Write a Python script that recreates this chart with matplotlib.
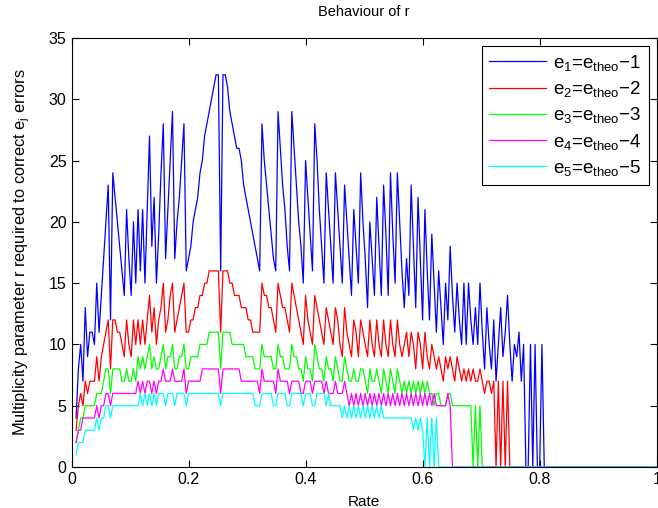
import numpy as np
import matplotlib
matplotlib.use("Agg")
import matplotlib.pyplot as plt

plt.rcParams['font.family'] = ['Liberation Sans', 'DejaVu Sans']
plt.rcParams['mathtext.fontset'] = 'custom'
plt.rcParams['mathtext.rm'] = 'Liberation Sans'
plt.rcParams['mathtext.it'] = 'Liberation Sans'

n_code = 255
k_vals = np.arange(2, 256)
rate = k_vals / n_code

blue_vals = [4, 8, 10, 7, 13, 9, 11, 11, 10, 15,
             11, 14, 17, 20, 23, 12, 24, 22, 20, 18,
             16, 14, 21, 17, 14, 20, 15, 21, 16, 21,
             15, 21, 27, 18, 22, 15, 19, 24, 28, 17,
             21, 25, 29, 17, 20, 22, 25, 28, 16, 17,
             18, 20, 21, 22, 24, 25, 27, 28, 29, 30,
             31, 32, 32, 16, 32, 32, 31, 29, 28, 27,
             26, 26, 25, 23, 22, 21, 20, 19, 18, 17,
             16, 28, 25, 23, 21, 19, 17, 16, 29, 26,
             23, 21, 18, 16, 29, 26, 23, 20, 18, 15,
             25, 22, 19, 16, 28, 25, 21, 18, 15, 24,
             21, 18, 15, 24, 21, 18, 15, 23, 20, 17,
             14, 21, 18, 15, 24, 20, 17, 13, 20, 17,
             14, 22, 18, 14, 23, 19, 14, 24, 19, 15,
             24, 20, 16, 13, 17, 14, 23, 18, 13, 22,
             17, 12, 21, 16, 12, 19, 15, 11, 16, 13,
             10, 15, 12, 18, 14, 11, 15, 12, 10, 15,
             10, 15, 12, 10, 13, 10, 15, 11, 8, 13,
             10, 8, 12, 7, 10, 13, 9, 11, 14, 10,
             7, 10, 9, 11, 7, 10, 0, 0, 10, 0,
             10, 0, 0, 10, 0]

red_vals = [3, 5, 6, 5, 7, 6, 7, 7, 7, 9,
            7, 9, 10, 11, 12, 8, 12, 12, 11, 11,
            10, 9, 12, 10, 9, 12, 10, 12, 10, 12,
            10, 12, 14, 11, 13, 10, 12, 13, 15, 11,
            12, 14, 15, 11, 12, 13, 14, 15, 11, 11,
            12, 12, 13, 13, 14, 14, 15, 15, 16, 16,
            16, 16, 16, 11, 16, 16, 16, 15, 15, 14,
            14, 14, 13, 13, 13, 12, 12, 11, 11, 11,
            11, 15, 14, 14, 13, 13, 12, 11, 15, 14,
            13, 13, 12, 11, 15, 14, 13, 12, 11, 10,
            14, 12, 11, 10, 14, 13, 12, 11, 10, 13,
            12, 11, 10, 13, 12, 10, 9, 13, 11, 10,
            9, 12, 11, 9, 12, 11, 10, 9, 12, 10,
            9, 12, 10, 9, 12, 10, 9, 12, 10, 9,
            12, 10, 9, 10, 11, 9, 11, 10, 8, 11,
            10, 8, 11, 9, 8, 10, 9, 8, 9, 8,
            7, 9, 8, 9, 8, 7, 9, 8, 7, 8,
            7, 8, 7, 8, 7, 7, 8, 7, 6, 7,
            7, 6, 7, 0, 7, 0, 7, 0, 7, 0]

green_vals = [2, 3, 4, 4, 5, 5, 5, 5, 5, 6,
              6, 6, 7, 8, 8, 6, 8, 8, 8, 8,
              7, 7, 8, 7, 7, 8, 7, 9, 8, 9,
              8, 9, 10, 8, 9, 8, 8, 9, 10, 8,
              9, 9, 10, 8, 8, 9, 9, 10, 8, 8,
              9, 9, 9, 9, 10, 10, 10, 10, 11, 11,
              11, 11, 11, 8, 11, 11, 11, 11, 10, 10,
              10, 10, 10, 10, 9, 9, 9, 9, 8, 8,
              8, 10, 9, 9, 9, 9, 8, 8, 10, 9,
              9, 8, 8, 8, 10, 9, 9, 8, 8, 7,
              9, 8, 8, 7, 10, 9, 8, 8, 7, 9,
              8, 8, 7, 9, 8, 7, 7, 9, 8, 7,
              7, 8, 7, 7, 8, 8, 7, 6, 8, 7,
              7, 8, 7, 6, 8, 7, 6, 8, 7, 6,
              8, 7, 6, 7, 6, 7, 6, 7, 6, 7,
              6, 7, 6, 7, 6, 6, 5, 6, 6, 5,
              5, 5, 6, 6, 5, 5, 5, 5, 5, 5,
              5, 5, 5, 0, 5, 0, 5, 0]

magenta_vals = [2, 3, 3, 4, 4, 4, 4, 4, 4, 5,
                4, 5, 5, 6, 6, 5, 6, 6, 6, 6,
                6, 6, 6, 6, 6, 6, 6, 7, 6, 7,
                6, 7, 7, 6, 7, 6, 7, 7, 8, 7,
                7, 7, 8, 7, 7, 7, 7, 8, 6, 7,
                7, 7, 7, 7, 7, 8, 8, 8, 8, 8,
                8, 8, 8, 6, 8, 8, 8, 8, 8, 8,
                8, 8, 7, 7, 7, 7, 7, 7, 7, 7,
                6, 8, 7, 7, 7, 7, 7, 6, 8, 7,
                7, 7, 7, 6, 7, 7, 7, 7, 6, 6,
                7, 7, 7, 6, 7, 7, 7, 7, 6, 7,
                6, 6, 6, 7, 6, 6, 6, 7, 6, 5,
                6, 5, 6, 5, 6, 5, 6, 5, 6, 5,
                6, 5, 6, 5, 6, 5, 6, 5, 6, 5,
                6, 5, 6, 5, 6, 5, 6, 5, 6, 5,
                6, 5, 6, 5, 6, 5, 6, 5, 5, 5,
                5, 5, 6, 5, 0]

cyan_vals = [1, 2, 2, 2, 3, 3, 3, 3, 3, 4,
             3, 4, 4, 5, 5, 4, 5, 5, 5, 5,
             5, 5, 5, 5, 5, 5, 5, 5, 6, 5,
             6, 5, 6, 5, 6, 5, 6, 6, 6, 5,
             6, 6, 6, 5, 6, 6, 6, 6, 5, 6,
             6, 6, 6, 6, 6, 6, 6, 6, 6, 6,
             6, 6, 6, 5, 6, 6, 6, 6, 6, 6,
             6, 6, 6, 6, 6, 6, 6, 6, 5, 5,
             5, 6, 6, 6, 6, 6, 5, 5, 6, 6,
             6, 6, 5, 5, 6, 6, 6, 6, 6, 5,
             6, 6, 6, 5, 5, 6, 6, 6, 6, 5,
             6, 5, 5, 5, 5, 5, 4, 5, 4, 5,
             4, 5, 4, 5, 4, 5, 4, 5, 4, 5,
             4, 5, 4, 5, 4, 4, 4, 4, 4, 4,
             4, 4, 4, 4, 4, 4, 4, 3, 4, 3,
             4, 3, 0, 4, 0, 4, 0, 4, 0]

def full(vals):
    return list(vals) + [0] * (len(k_vals) - len(vals))

series = [
    (full(blue_vals), '#0000ff', r'$e_1$=$e_{theo}$$-$1'),
    (full(red_vals), '#ff0000', r'$e_2$=$e_{theo}$$-$2'),
    (full(green_vals), '#00ff00', r'$e_3$=$e_{theo}$$-$3'),
    (full(magenta_vals), '#ff00ff', r'$e_4$=$e_{theo}$$-$4'),
    (full(cyan_vals), '#00ffff', r'$e_5$=$e_{theo}$$-$5'),
]

fig = plt.figure(figsize=(6.58, 5.08), dpi=100)
ax = fig.add_axes([71.5/658, 41/508, (656.7-71.5)/658, (467-38)/508])

for vals, col, lab in series:
    ax.plot(rate, vals, color=col, lw=0.9, label=lab)

ax.set_xlim(0, 1)
ax.set_ylim(0, 35)
ax.set_xticks([0, 0.2, 0.4, 0.6, 0.8, 1])
ax.set_xticklabels(['0', '0.2', '0.4', '0.6', '0.8', '1'])
ax.set_yticks(range(0, 36, 5))
ax.tick_params(direction='in', top=True, right=True, labelsize=11.5, length=5, width=0.8)
for sp in ax.spines.values():
    sp.set_linewidth(0.8)

ax.set_title('Behaviour of r', fontsize=10.5, pad=16)
ax.set_xlabel('Rate', fontsize=11, labelpad=6)
ax.set_ylabel(r'Multiplicity parameter r required to correct e$_j$ errors', fontsize=11.8, labelpad=12)

leg = ax.legend(loc='upper right', fontsize=13.5, frameon=True, fancybox=False,
                edgecolor='black', framealpha=1, handlelength=3.0, handletextpad=0.4,
                labelspacing=0.33, borderaxespad=0.4, borderpad=0.4)
leg.get_frame().set_linewidth(0.8)

fig.savefig('out.png', dpi=100)
